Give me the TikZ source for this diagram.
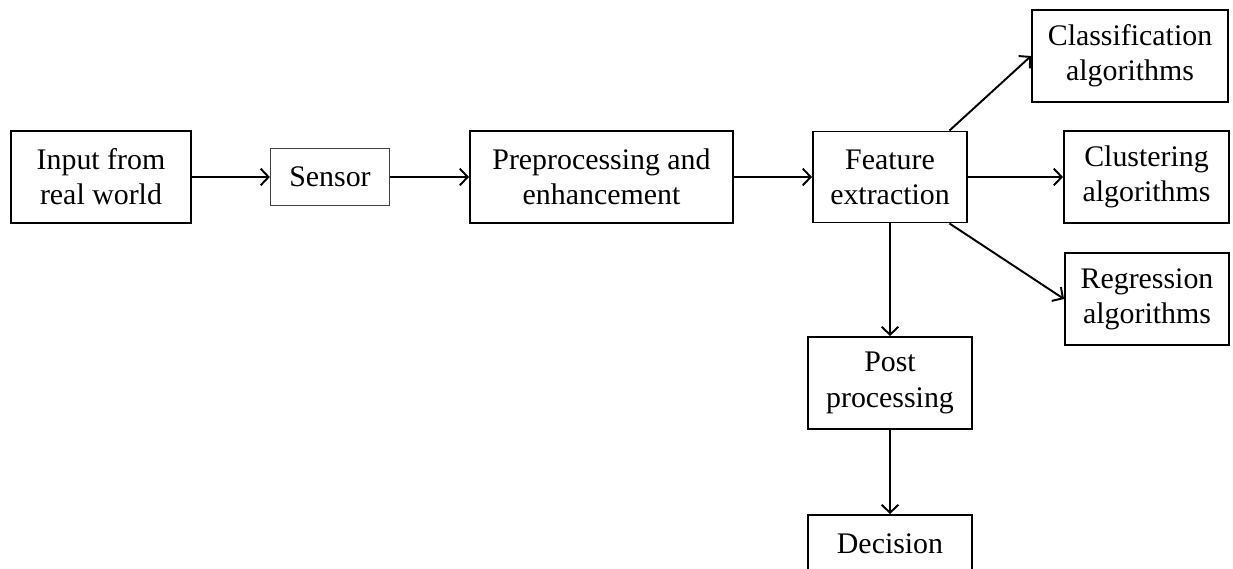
\documentclass[tikz,border=0pt]{standalone}
\usepackage{fontspec}
\setmainfont{Liberation Serif}
\usetikzlibrary{arrows.meta}

\begin{document}
\begin{tikzpicture}[
    box/.style={draw, line width=1.1pt, align=center, inner sep=2pt,
      minimum height=1.84cm, font=\fontsize{17}{20}\selectfont},
    flow/.style={-{Straight Barb[length=4.5pt, width=9.5pt, line width=1.1pt]}, line width=1.1pt}
  ]
    \useasboundingbox (0,0) rectangle (24.66,-11.38);
    \node[box, minimum width=3.6cm] (input) at (2.02,-3.54) {Input from\\real world};
    \node[box, minimum width=2.38cm, minimum height=1.14cm, line width=0.7pt, draw=black!75] (sensor) at (6.6,-3.54) {Sensor};
    \node[box, minimum width=5.26cm] (prep) at (12.03,-3.54) {Preprocessing and\\enhancement};
    \node[box, minimum width=3.08cm, minimum height=1.82cm] (feat) at (17.8,-3.54) {Feature\\extraction};
    \node[box, minimum width=3.92cm] (clas) at (22.6,-1.12) {Classification\\algorithms};
    \node[box, minimum width=3.3cm] (clus) at (22.93,-3.54) {Clustering\\algorithms};
    \node[box, minimum width=3.28cm] (regr) at (22.94,-5.98) {Regression\\algorithms};
    \node[box, minimum width=3.28cm] (post) at (17.8,-7.66) {Post\\processing};
    \node[box, minimum width=3.28cm] (deci) at (17.8,-11.22) {Decision\\ };
    \draw[flow] (input) -- (sensor);
    \draw[flow] (sensor) -- (prep);
    \draw[flow] (prep) -- (feat);
    \draw[flow] (feat) -- (clus);
    \draw[flow] (feat.38) -- (clas.west);
    \draw[flow] (feat.-38) -- (regr.west);
    \draw[flow] (feat) -- (post);
    \draw[flow] (post) -- (deci);
  \end{tikzpicture}
\end{document}
